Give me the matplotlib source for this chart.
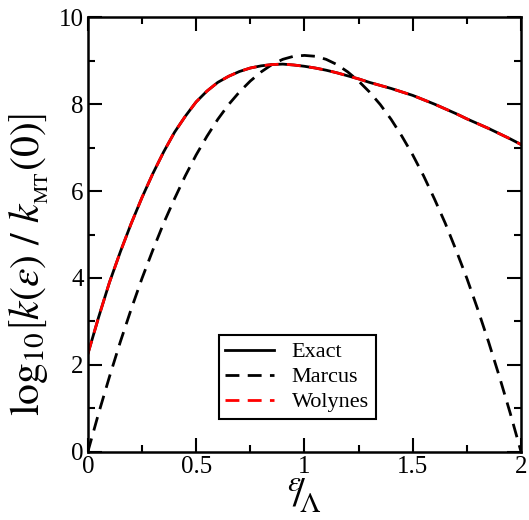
import matplotlib
matplotlib.use('Agg')
import matplotlib.pyplot as plt
from matplotlib.ticker import MultipleLocator

plt.rcParams['font.family'] = ['Liberation Serif', 'DejaVu Serif']
plt.rcParams['mathtext.fontset'] = 'stix'

# energy ratio eps/Lambda
x = [0.0, 0.05, 0.1, 0.15, 0.2, 0.25, 0.3, 0.35, 0.4, 0.45, 0.5, 0.55, 0.6, 0.65,
     0.7, 0.75, 0.8, 0.85, 0.9, 0.95, 1.0, 1.05, 1.1, 1.15, 1.2, 1.25, 1.3, 1.35,
     1.4, 1.45, 1.5, 1.55, 1.6, 1.65, 1.7, 1.75, 1.8, 1.85, 1.9, 1.95, 2.0]

exact = [2.25, 3.1, 3.9, 4.6, 5.25, 5.85, 6.4, 6.9, 7.35, 7.72, 8.05, 8.3, 8.5, 8.64,
         8.75, 8.83, 8.88, 8.91, 8.92, 8.9, 8.87, 8.83, 8.78, 8.72, 8.65, 8.58, 8.5, 8.43,
         8.36, 8.28, 8.2, 8.1, 8.0, 7.89, 7.78, 7.66, 7.55, 7.44, 7.32, 7.2, 7.07]

marcus = [0.0, 0.89, 1.73, 2.53, 3.28, 3.99, 4.64, 5.26, 5.82, 6.35, 6.83, 7.26, 7.65,
          7.99, 8.28, 8.53, 8.74, 8.91, 9.03, 9.1, 9.12, 9.1, 9.03, 8.91, 8.74, 8.53,
          8.28, 7.99, 7.65, 7.26, 6.83, 6.35, 5.82, 5.26, 4.64, 3.99, 3.28, 2.53, 1.73,
          0.89, 0.0]

wolynes = [2.25, 3.1, 3.9, 4.6, 5.25, 5.85, 6.4, 6.9, 7.35, 7.72, 8.05, 8.3, 8.5, 8.64,
           8.75, 8.83, 8.88, 8.91, 8.92, 8.9, 8.87, 8.83, 8.78, 8.72, 8.65, 8.58, 8.5, 8.43,
           8.36, 8.28, 8.2, 8.1, 8.0, 7.89, 7.78, 7.66, 7.55, 7.44, 7.32, 7.2, 7.07]

fig = plt.figure(figsize=(5.29, 5.2), dpi=100)
ax = fig.add_axes([0.166, 0.131, 0.819, 0.836])

ax.plot(x, exact, color='black', lw=2, label='Exact')
ax.plot(x, marcus, color='black', lw=2, dashes=(5, 3), label='Marcus')
ax.plot(x, wolynes, color='red', lw=2, dashes=(5, 3), label='Wolynes')

ax.set_xlim(0, 2)
ax.set_ylim(0, 10)
ax.xaxis.set_major_locator(MultipleLocator(0.5))
ax.xaxis.set_minor_locator(MultipleLocator(0.25))
ax.yaxis.set_major_locator(MultipleLocator(2))
ax.yaxis.set_minor_locator(MultipleLocator(1))
ax.set_xticks([0, 0.5, 1, 1.5, 2])
ax.set_xticklabels(['0', '0.5', '1', '1.5', '2'])
ax.tick_params(which='both', direction='in', top=True, right=True, width=1.5,
               labelsize=18, pad=3)
ax.tick_params(which='major', length=10)
ax.tick_params(which='minor', length=5)
for s in ax.spines.values():
    s.set_linewidth(1.8)

ax.set_xlabel(r'$^{\epsilon}\!\!/\!_{\Lambda}$', fontsize=30, labelpad=0)
ax.set_ylabel(r'$\log_{10}\!\left[k(\epsilon)\ /\ k_{_{\rm MT}}(0)\right]$', fontsize=30)
ax.yaxis.set_label_coords(-0.085, 0.43)

leg = ax.legend(loc='lower center', bbox_to_anchor=(0.483, 0.05), fontsize=16,
                frameon=True, fancybox=False, handlelength=2.2, borderpad=0.3,
                labelspacing=0.2, handletextpad=0.8)
leg.get_frame().set_edgecolor('black')
leg.get_frame().set_linewidth(1.5)
leg.get_frame().set_alpha(1)

fig.savefig('out.png', dpi=100)
